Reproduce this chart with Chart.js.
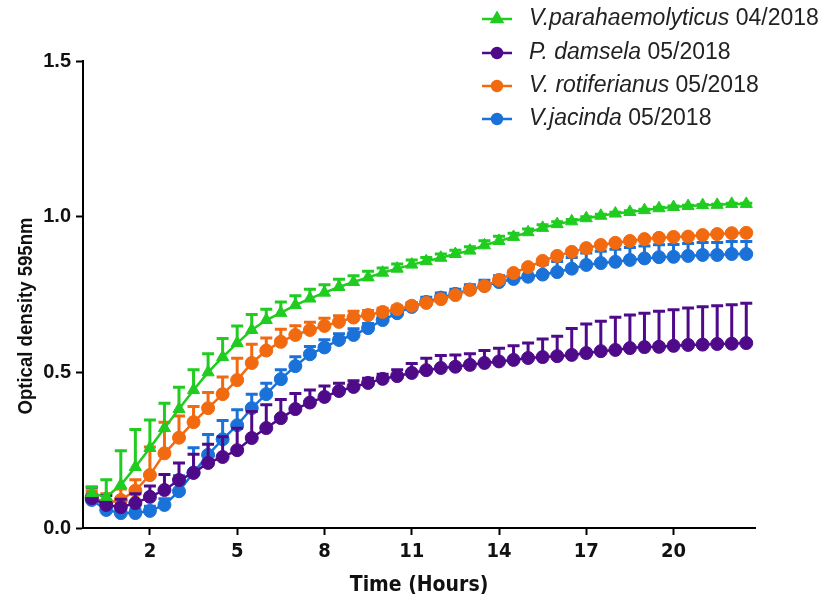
<!DOCTYPE html>
<html lang="en">
<head>
    <meta charset="UTF-8">
    <title>Optical density growth curves</title>
    <style>
        body, html {
            margin: 0;
            padding: 0;
            background: #ffffff;
        }
        #wrap {
            width: 828px;
            height: 598px;
        }
    </style>
    <script src="https://cdn.jsdelivr.net/npm/chart.js"></script>
</head>
<body>
    <div id="wrap">
        <canvas id="growthChart" width="828" height="598"></canvas>
    </div>

    <script>
        // sampling times (hours)
        const times = [0, 0.5, 1, 1.5, 2, 2.5, 3, 3.5, 4, 4.5, 5, 5.5, 6, 6.5, 7, 7.5, 8, 8.5, 9, 9.5,
            10, 10.5, 11, 11.5, 12, 12.5, 13, 13.5, 14, 14.5, 15, 15.5, 16, 16.5, 17, 17.5, 18, 18.5, 19, 19.5,
            20, 20.5, 21, 21.5, 22, 22.5];

        const xTicks = [2, 5, 8, 11, 14, 17, 20];
        const yTicks = [0, 0.5, 1.0, 1.5];
        const yTickLabels = ['0.0', '0.5', '1.0', '1.5'];

        const speciesNames = ['V.parahaemolyticus', 'P. damsela', 'V. rotiferianus', 'V.jacinda'];
        const speciesDates = ['04/2018', '05/2018', '05/2018', '05/2018'];

        // mean OD595 per series
        const parahaemolyticus = [0.112, 0.100, 0.138, 0.196, 0.257, 0.321, 0.382, 0.443, 0.500, 0.549,
            0.594, 0.636, 0.668, 0.691, 0.716, 0.737, 0.756, 0.774, 0.790, 0.805,
            0.820, 0.833, 0.846, 0.857, 0.868, 0.880, 0.891, 0.908, 0.922, 0.935,
            0.950, 0.964, 0.976, 0.985, 0.995, 1.003, 1.010, 1.015, 1.021, 1.027,
            1.031, 1.034, 1.037, 1.038, 1.041, 1.041];
        const damsela = [0.096, 0.074, 0.067, 0.080, 0.100, 0.122, 0.154, 0.177, 0.209, 0.228,
            0.250, 0.289, 0.321, 0.353, 0.382, 0.403, 0.421, 0.440, 0.453, 0.466,
            0.479, 0.488, 0.498, 0.507, 0.514, 0.518, 0.524, 0.530, 0.535, 0.540,
            0.546, 0.549, 0.552, 0.556, 0.562, 0.568, 0.572, 0.578, 0.581, 0.582,
            0.585, 0.588, 0.589, 0.591, 0.592, 0.594];
        const rotiferianus = [0.100, 0.080, 0.090, 0.120, 0.170, 0.240, 0.290, 0.340, 0.385, 0.430,
            0.475, 0.530, 0.570, 0.598, 0.620, 0.636, 0.649, 0.662, 0.676, 0.684,
            0.694, 0.703, 0.714, 0.723, 0.735, 0.748, 0.765, 0.777, 0.797, 0.819,
            0.838, 0.858, 0.874, 0.887, 0.899, 0.909, 0.916, 0.922, 0.928, 0.932,
            0.935, 0.936, 0.941, 0.944, 0.947, 0.948];
        const jacinda = [0.090, 0.058, 0.048, 0.048, 0.055, 0.074, 0.118, 0.178, 0.235, 0.285,
            0.330, 0.385, 0.430, 0.478, 0.520, 0.558, 0.580, 0.604, 0.620, 0.642,
            0.668, 0.690, 0.710, 0.726, 0.740, 0.752, 0.766, 0.778, 0.790, 0.800,
            0.807, 0.814, 0.822, 0.833, 0.845, 0.851, 0.855, 0.861, 0.866, 0.870,
            0.871, 0.874, 0.877, 0.877, 0.880, 0.880];

        // upper error (SD) per series
        const parahaemolyticusErr = [0.020, 0.055, 0.110, 0.120, 0.090, 0.080, 0.070, 0.065, 0.060, 0.060,
            0.055, 0.050, 0.035, 0.035, 0.030, 0.030, 0.025, 0.025, 0.020, 0.020,
            0.015, 0.015, 0.015, 0.012, 0.012, 0.012, 0.012, 0.015, 0.015, 0.012,
            0.010, 0.010, 0.008, 0.006, 0.005, 0.005, 0.004, 0.004, 0.003, 0.003,
            0.003, 0.003, 0.002, 0.002, 0.002, 0.002];
        const damselaErr = [0.035, 0.030, 0.025, 0.030, 0.035, 0.050, 0.055, 0.060, 0.060, 0.065,
            0.070, 0.085, 0.075, 0.060, 0.050, 0.040, 0.035, 0.025, 0.020, 0.015,
            0.015, 0.020, 0.030, 0.038, 0.040, 0.038, 0.036, 0.040, 0.042, 0.045,
            0.048, 0.058, 0.064, 0.085, 0.093, 0.096, 0.105, 0.106, 0.109, 0.114,
            0.116, 0.119, 0.122, 0.123, 0.125, 0.128];
        const rotiferianusErr = [0.020, 0.030, 0.035, 0.035, 0.090, 0.100, 0.070, 0.050, 0.050, 0.055,
            0.070, 0.060, 0.040, 0.040, 0.030, 0.025, 0.025, 0.020, 0.020, 0.015,
            0.012, 0.010, 0.010, 0.008, 0.008, 0.008, 0.008, 0.008, 0.006, 0.006,
            0.006, 0.005, 0.005, 0.005, 0.005, 0.005, 0.005, 0.005, 0.005, 0.005,
            0.005, 0.005, 0.005, 0.005, 0.005, 0.005];
        const jacindaErr = [0.020, 0.015, 0.012, 0.012, 0.015, 0.020, 0.050, 0.080, 0.065, 0.060,
            0.050, 0.045, 0.035, 0.030, 0.030, 0.025, 0.025, 0.020, 0.020, 0.015,
            0.015, 0.015, 0.012, 0.015, 0.015, 0.015, 0.015, 0.018, 0.020, 0.025,
            0.030, 0.032, 0.034, 0.036, 0.038, 0.038, 0.040, 0.040, 0.040, 0.040,
            0.040, 0.040, 0.040, 0.040, 0.040, 0.040];

        const seriesValues = [parahaemolyticus, damsela, rotiferianus, jacinda];
        const seriesErrors = [parahaemolyticusErr, damselaErr, rotiferianusErr, jacindaErr];
        const seriesColors = ['#1fcc1f', '#4f0a8a', '#f26a10', '#1a72d8'];
        const seriesShapes = ['triangle', 'circle', 'circle', 'circle'];

        const narrowFont = '"Liberation Sans Narrow", "Arial Narrow", "DejaVu Sans Condensed", "Liberation Sans", Arial, sans-serif';
        const plainFont = '"Liberation Sans", Arial, sans-serif';

        // draws the upper error bars of a dataset just before its line and markers
        const errorBars = {
            id: 'errorBars',
            beforeDatasetDraw(chart, args) {
                const i = args.index;
                const ctx = chart.ctx;
                const xs = chart.scales.x;
                const ys = chart.scales.y;
                ctx.save();
                ctx.strokeStyle = seriesColors[i];
                ctx.lineWidth = 3;
                seriesValues[i].forEach((v, j) => {
                    const px = xs.getPixelForValue(times[j]);
                    const y0 = ys.getPixelForValue(v);
                    const y1 = ys.getPixelForValue(v + seriesErrors[i][j]);
                    ctx.beginPath();
                    ctx.moveTo(px, y0);
                    ctx.lineTo(px, y1);
                    ctx.moveTo(px - 6, y1);
                    ctx.lineTo(px + 6, y1);
                    ctx.stroke();
                });
                ctx.restore();
            }
        };

        // y title (condensed) and the legend with italic species names
        const decorations = {
            id: 'decorations',
            afterDraw(chart) {
                const ctx = chart.ctx;
                ctx.save();
                ctx.fillStyle = '#111';
                ctx.translate(26, 316);
                ctx.rotate(-Math.PI / 2);
                ctx.font = 'bold 20px ' + plainFont;
                const tw = ctx.measureText('Optical density 595nm').width;
                ctx.scale(Math.min(1, 197 / tw), 1);
                ctx.textAlign = 'center';
                ctx.textBaseline = 'middle';
                ctx.fillText('Optical density 595nm', 0, 0);
                ctx.restore();

                const rowY = [19, 53, 86, 119];
                speciesNames.forEach((name, i) => {
                    const y = rowY[i];
                    ctx.save();
                    ctx.strokeStyle = seriesColors[i];
                    ctx.fillStyle = seriesColors[i];
                    ctx.lineWidth = 2.5;
                    ctx.beginPath();
                    ctx.moveTo(482, y);
                    ctx.lineTo(512, y);
                    ctx.stroke();
                    Chart.helpers.drawPoint(ctx, {
                        pointStyle: seriesShapes[i],
                        radius: seriesShapes[i] === 'triangle' ? 6 : 5,
                        borderWidth: 1
                    }, 497, y);
                    ctx.fillStyle = '#222';
                    ctx.textBaseline = 'middle';
                    ctx.font = 'italic 23px ' + plainFont;
                    ctx.fillText(name, 529, y);
                    const w = ctx.measureText(name + ' ').width;
                    ctx.font = '23px ' + plainFont;
                    ctx.fillText(speciesDates[i], 529 + w, y);
                    ctx.restore();
                });
            }
        };

        const datasets = seriesValues.map((vals, i) => ({
            label: speciesNames[i] + ' ' + speciesDates[i],
            data: times.map((t, j) => ({ x: t, y: vals[j] })),
            borderColor: seriesColors[i],
            backgroundColor: seriesColors[i],
            borderWidth: 2.5,
            pointStyle: seriesShapes[i],
            pointRadius: seriesShapes[i] === 'triangle' ? 7 : 6.5,
            pointBorderWidth: 1,
            pointBackgroundColor: seriesColors[i],
            pointBorderColor: seriesColors[i],
            tension: 0,
            clip: false
        }));

        new Chart(document.getElementById('growthChart'), {
            type: 'line',
            data: { datasets: datasets },
            options: {
                responsive: false,
                animation: false,
                layout: {
                    padding: { top: 61, right: 73, left: 0, bottom: 0 }
                },
                plugins: {
                    legend: { display: false },
                    tooltip: { enabled: false }
                },
                scales: {
                    x: {
                        type: 'linear',
                        min: -0.3,
                        max: 22.8,
                        afterBuildTicks(scale) {
                            scale.ticks = xTicks.map(v => ({ value: v }));
                        },
                        afterFit(scale) {
                            scale.height = 70;
                        },
                        border: { display: true, color: '#000', width: 2 },
                        grid: {
                            display: true,
                            drawOnChartArea: false,
                            drawTicks: true,
                            tickLength: 7,
                            tickColor: '#000',
                            tickWidth: 2
                        },
                        ticks: {
                            color: '#111',
                            padding: 5,
                            maxRotation: 0,
                            font: { family: narrowFont, size: 20, weight: 'bold' }
                        },
                        title: {
                            display: true,
                            text: 'Time (Hours)',
                            color: '#111',
                            padding: { top: 6, bottom: 0 },
                            font: { family: narrowFont, size: 21, weight: 'bold' }
                        }
                    },
                    y: {
                        min: 0,
                        max: 1.5,
                        afterBuildTicks(scale) {
                            scale.ticks = yTicks.map(v => ({ value: v }));
                        },
                        afterFit(scale) {
                            scale.width = 83;
                        },
                        border: { display: true, color: '#000', width: 2 },
                        grid: {
                            display: true,
                            drawOnChartArea: false,
                            drawTicks: true,
                            tickLength: 7,
                            tickColor: '#000',
                            tickWidth: 2
                        },
                        ticks: {
                            color: '#111',
                            padding: 5,
                            callback: (value, index) => yTickLabels[index],
                            font: { family: plainFont, size: 20, weight: 'bold' }
                        }
                    }
                }
            },
            plugins: [errorBars, decorations]
        });
    </script>
</body>
</html>
